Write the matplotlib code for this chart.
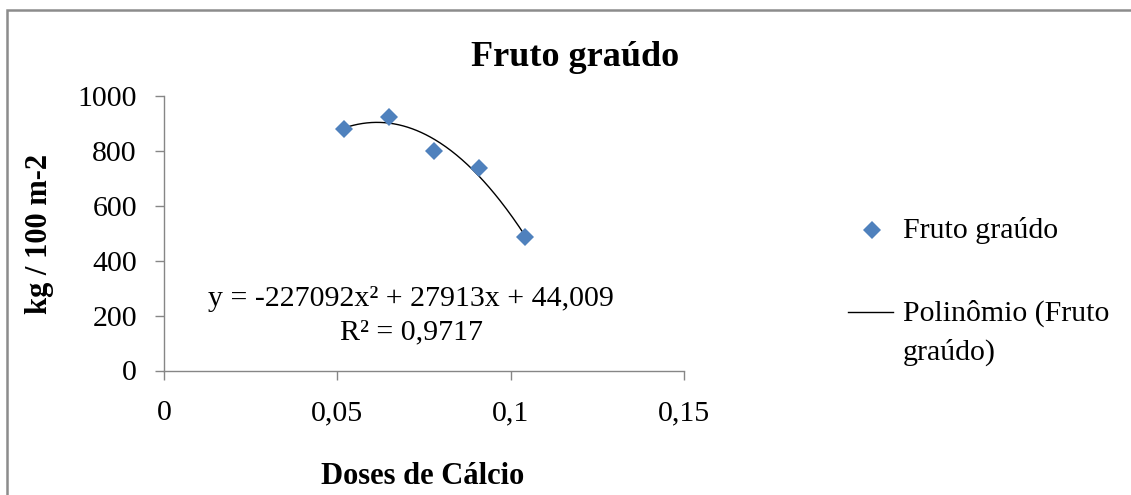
import matplotlib
matplotlib.use("Agg")
import matplotlib.pyplot as plt
import numpy as np
from matplotlib.lines import Line2D
from matplotlib.patches import Rectangle

# data
doses = [0.052, 0.065, 0.078, 0.091, 0.104]
fruto_graudo = [879, 924, 801, 738, 485]
x_ticks = [0, 0.05, 0.1, 0.15]
x_tick_labels = ["0", "0,05", "0,1", "0,15"]
y_ticks = [0, 200, 400, 600, 800, 1000]
equation = "y = -227092x² + 27913x + 44,009\nR² = 0,9717"

plt.rcParams['font.family'] = ['Liberation Serif', 'DejaVu Serif']

W, H = 1131, 495
fig = plt.figure(figsize=(W / 100, H / 100), dpi=100)
ax = fig.add_axes([164 / W, 1 - 370.5 / H, (684 - 164) / W, (370.5 - 96) / H])

blue = '#4F81BD'
grey = '#868686'

# polynomial trendline (order 2), like Excel
coef = np.polyfit(doses, fruto_graudo, 2)
xs = np.linspace(min(doses), max(doses), 200)
ax.plot(xs, np.polyval(coef, xs), color='black', lw=1.0, zorder=2)
ax.plot(doses, fruto_graudo, ls='none', marker='D', ms=9.5, mew=0,
        color=blue, zorder=3)

ax.set_xlim(0, 0.15)
ax.set_ylim(0, 1000)
ax.set_xticks(x_ticks)
ax.set_xticklabels(x_tick_labels)
ax.set_yticks(y_ticks)

for s in ['top', 'right']:
    ax.spines[s].set_visible(False)
for s in ['left', 'bottom']:
    ax.spines[s].set_color(grey)
    ax.spines[s].set_linewidth(1.0)
ax.tick_params(axis='both', direction='out', length=6.5, width=1.0,
               color=grey, labelsize=21.5, labelcolor='black')
ax.tick_params(axis='y', pad=13)
ax.tick_params(axis='x', pad=15)

# title and axis titles
fig.text(575 / W, 1 - 66 / H, "Fruto graúdo", ha='center', va='baseline',
         fontsize=26, fontweight='bold')
fig.text(423 / W, 1 - 484 / H, "Doses de Cálcio", ha='center', va='baseline',
         fontsize=22, fontweight='bold')
fig.text(40 / W, 1 - 234 / H, "kg / 100 m-2", ha='center', va='center',
         rotation=90, fontsize=22, fontweight='bold')

# trendline equation
fig.text(411 / W, 1 - 316 / H, equation, ha='center', va='center',
         multialignment='center', fontsize=21.5, linespacing=1.35)

# legend (drawn by hand to keep the handle on the first label line)
fig.add_artist(Line2D([872 / W], [1 - 230 / H], marker='D', ms=9.5, mew=0,
                      color=blue, transform=fig.transFigure))
fig.text(903 / W, 1 - 231 / H, "Fruto graúdo", ha='left', va='center',
         fontsize=21.5)
fig.add_artist(Line2D([848 / W, 893 / W], [1 - 312 / H] * 2, color='black',
                      lw=1.0, transform=fig.transFigure))
fig.text(903 / W, 1 - 333 / H, "Polinômio (Fruto\ngraúdo)", ha='left',
         va='center', fontsize=21.5, linespacing=1.55)

# chart area border
fig.add_artist(Rectangle((7 / W, -0.1), 1.2, 1.1 - 10 / H, fill=False,
                         edgecolor='#8C8C8C', lw=1.8,
                         transform=fig.transFigure))

fig.savefig('out.png', dpi=100)
